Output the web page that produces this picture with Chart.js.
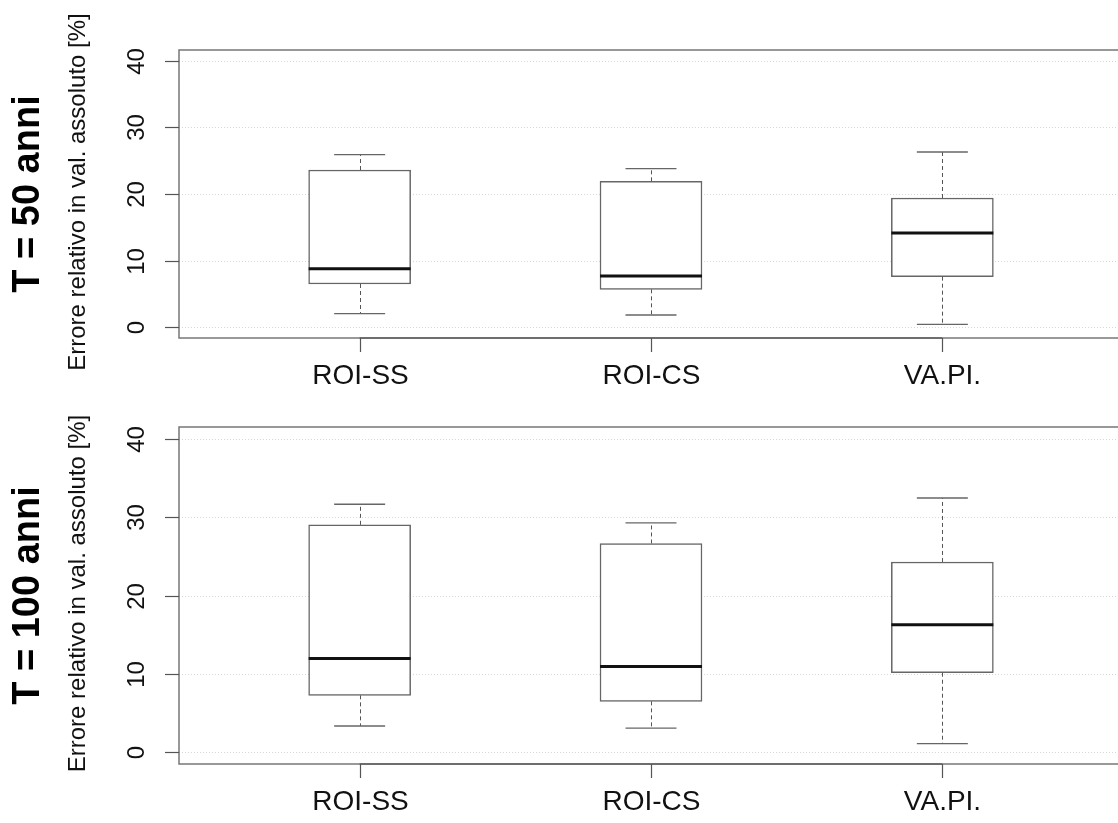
<!DOCTYPE html>
<html>
<head>
<meta charset="utf-8">
<script src="https://cdn.jsdelivr.net/npm/chart.js@4/dist/chart.umd.min.js"></script>
<style>
  html, body { margin: 0; padding: 0; background: #fff; overflow: hidden; width: 1118px; height: 823px; }
  canvas { position: absolute; left: 0; }
  #top { top: 0; }
  #bottom { top: 411px; }
</style>
</head>
<body>
<canvas id="top" width="1130" height="411"></canvas>
<canvas id="bottom" width="1130" height="412"></canvas>
<script>
// Categories and y ticks
const categories = ['ROI-SS', 'ROI-CS', 'VA.PI.'];
const yTicks = [0, 10, 20, 30, 40];

// T = 50 anni: five-number summaries per method
const low50  = [2.05, 1.85, 0.45];
const q1_50  = [6.5, 5.7, 7.6];
const med50  = [8.77, 7.7, 14.15];
const q3_50  = [23.6, 21.9, 19.4];
const high50 = [25.9, 23.8, 26.3];

// T = 100 anni
const low100  = [3.27, 3.0, 1.0];
const q1_100  = [7.2, 6.43, 10.1];
const med100  = [11.94, 10.9, 16.25];
const q3_100  = [29.06, 26.67, 24.3];
const high100 = [31.7, 29.3, 32.5];

const FONT = '"Liberation Sans", Arial, Helvetica, sans-serif';
const BOX_HALF = 0.175;   // half box width, x units
const CAP_HALF = 0.0875;  // half whisker-cap width, x units

function boxDecor(panelTitle, low, med, high, q1, q3) {
  return {
    id: 'boxDecor',
    beforeDatasetsDraw(chart) {
      const { ctx, chartArea: a, scales: { y } } = chart;
      ctx.save();
      ctx.strokeStyle = '#d6d6d6';
      ctx.lineWidth = 1;
      ctx.setLineDash([1, 2]);
      yTicks.forEach(v => {
        const py = Math.round(y.getPixelForValue(v)) + 0.5;
        ctx.beginPath(); ctx.moveTo(a.left, py); ctx.lineTo(a.right, py); ctx.stroke();
      });
      ctx.restore();
    },
    afterDatasetsDraw(chart) {
      const { ctx, scales: { x, y } } = chart;
      ctx.save();
      categories.forEach((c, i) => {
        const cx = Math.round(x.getPixelForValue(i + 1)) + 0.5;
        // dashed whiskers
        ctx.strokeStyle = '#555';
        ctx.lineWidth = 1;
        ctx.setLineDash([4, 3]);
        ctx.beginPath();
        ctx.moveTo(cx, y.getPixelForValue(q3[i])); ctx.lineTo(cx, y.getPixelForValue(high[i]));
        ctx.moveTo(cx, y.getPixelForValue(q1[i])); ctx.lineTo(cx, y.getPixelForValue(low[i]));
        ctx.stroke();
        // caps
        ctx.setLineDash([]);
        ctx.strokeStyle = '#666';
        ctx.lineWidth = 1.3;
        const cl = x.getPixelForValue(i + 1 - CAP_HALF), cr = x.getPixelForValue(i + 1 + CAP_HALF);
        [high[i], low[i]].forEach(v => {
          const py = y.getPixelForValue(v);
          ctx.beginPath(); ctx.moveTo(cl, py); ctx.lineTo(cr, py); ctx.stroke();
        });
        // median
        ctx.strokeStyle = '#111';
        ctx.lineWidth = 3;
        const py = y.getPixelForValue(med[i]);
        ctx.beginPath();
        ctx.moveTo(x.getPixelForValue(i + 1 - BOX_HALF), py);
        ctx.lineTo(x.getPixelForValue(i + 1 + BOX_HALF), py);
        ctx.stroke();
      });
      ctx.restore();
    },
    afterDraw(chart) {
      const { ctx, chartArea: a, scales: { x, y } } = chart;
      ctx.save();
      // frame
      ctx.strokeStyle = '#777';
      ctx.lineWidth = 1.5;
      ctx.strokeRect(a.left, a.top, a.right - a.left, a.bottom - a.top);
      // bottom axis line between first and last tick
      ctx.strokeStyle = '#444';
      ctx.lineWidth = 1.2;
      ctx.beginPath();
      ctx.moveTo(x.getPixelForValue(1), a.bottom);
      ctx.lineTo(x.getPixelForValue(categories.length), a.bottom);
      ctx.stroke();
      // y ticks and labels
      ctx.strokeStyle = '#555';
      ctx.lineWidth = 1.2;
      ctx.fillStyle = '#111';
      ctx.font = '24px ' + FONT;
      ctx.textAlign = 'center';
      ctx.textBaseline = 'middle';
      yTicks.forEach(v => {
        const py = Math.round(y.getPixelForValue(v)) + 0.5;
        ctx.beginPath(); ctx.moveTo(a.left - 14, py); ctx.lineTo(a.left, py); ctx.stroke();
        ctx.save();
        ctx.translate(a.left - 43, py);
        ctx.rotate(-Math.PI / 2);
        ctx.fillText(String(v), 0, 1);
        ctx.restore();
      });
      // x ticks and labels
      ctx.font = '28px ' + FONT;
      categories.forEach((c, i) => {
        const px = Math.round(x.getPixelForValue(i + 1)) + 0.5;
        ctx.beginPath(); ctx.moveTo(px, a.bottom); ctx.lineTo(px, a.bottom + 14); ctx.stroke();
        ctx.fillText(c, px, a.bottom + 38);
      });
      // axis title
      const midY = (a.top + a.bottom) / 2;
      ctx.font = '24px ' + FONT;
      ctx.save();
      ctx.translate(78, midY - 2);
      ctx.rotate(-Math.PI / 2);
      ctx.fillText('Errore relativo in val. assoluto [%]', 0, 0);
      ctx.restore();
      // panel title
      ctx.font = 'bold 38px ' + FONT;
      ctx.fillStyle = '#000';
      ctx.save();
      ctx.translate(28, midY);
      ctx.rotate(-Math.PI / 2);
      ctx.fillText(panelTitle, 0, 1);
      ctx.restore();
      ctx.restore();
    }
  };
}

function makePanel(id, panelTitle, low, q1, med, q3, high, padding) {
  const data = categories.map((c, i) => ({ x: i + 1, y: [q1[i], q3[i]] }));
  return new Chart(document.getElementById(id), {
    type: 'bar',
    data: {
      datasets: [{
        label: panelTitle,
        data: data,
        backgroundColor: '#ffffff',
        borderColor: '#666',
        borderWidth: 1.5,
        borderSkipped: false,
        barThickness: 102
      }]
    },
    options: {
      responsive: false,
      animation: false,
      devicePixelRatio: 1,
      layout: { padding: padding },
      plugins: { legend: { display: false }, tooltip: { enabled: false } },
      scales: {
        x: { type: 'linear', min: 0.38, max: 3.62, offset: false, display: false },
        y: { type: 'linear', min: -1.6, max: 41.6, display: false }
      }
    },
    plugins: [boxDecor(panelTitle, low, med, high, q1, q3)]
  });
}

makePanel('top', 'T = 50 anni', low50, q1_50, med50, q3_50, high50,
  { left: 179, top: 50, right: 7, bottom: 73 });
makePanel('bottom', 'T = 100 anni', low100, q1_100, med100, q3_100, high100,
  { left: 179, top: 16, right: 7, bottom: 59 });
</script>
</body>
</html>
